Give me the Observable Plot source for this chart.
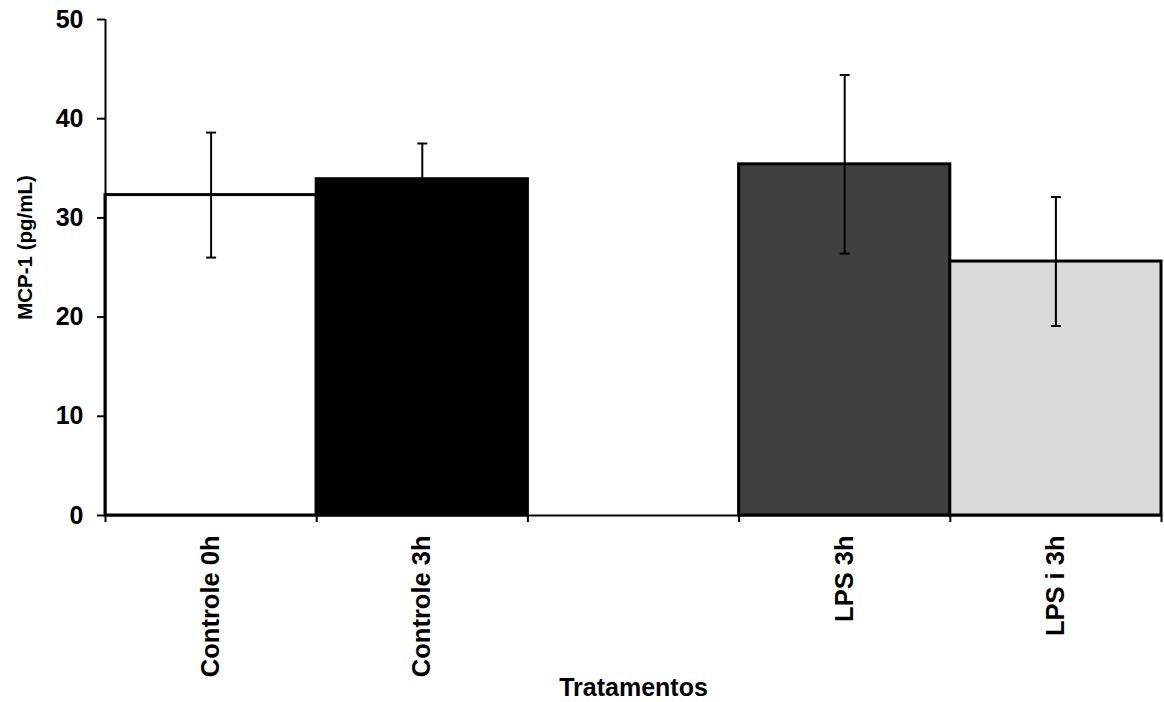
<!DOCTYPE html>
<html><head><meta charset="utf-8">
<script src="https://cdn.jsdelivr.net/npm/d3@7"></script>
<script src="https://cdn.jsdelivr.net/npm/@observablehq/plot@0.6"></script>
<style>body{margin:0;background:#fff;}</style>
</head><body><div id="chart"></div>
<script>
const categories = ["Controle 0h", "Controle 3h", "", "LPS 3h", "LPS i 3h"];
const means = [32.3, 33.9, null, 35.4, 25.6];
const errors = [6.3, 3.6, null, 9.0, 6.5];
const fills = ["#ffffff", "#000000", null, "#404040", "#d9d9d9"];
const yTicks = [0, 10, 20, 30, 40, 50];
const xTitle = "Tratamentos";
const yTitle = "MCP-1 (pg/mL)";

const data = categories
  .map((c, i) => ({category: c, index: i, mean: means[i], err: errors[i], fill: fills[i]}))
  .filter(d => d.mean != null);

const boundaries = d3.range(categories.length + 1);
const capSymbol = {draw(ctx) { ctx.moveTo(-5, 0); ctx.lineTo(5, 0); }};
const font = "'Liberation Sans', Arial, Helvetica, sans-serif";

const chart = Plot.plot({
  width: 1164,
  height: 702,
  marginLeft: 105,
  marginRight: 3,
  marginTop: 19,
  marginBottom: 187,
  style: {fontFamily: font, background: "#fff", color: "#000"},
  x: {type: "linear", domain: [0, categories.length]},
  y: {domain: [0, 50]},
  marks: [
    Plot.rectY(data, {x1: d => d.index, x2: d => d.index + 1, y: "mean", fill: d => d.fill, stroke: "#000", strokeWidth: 3}),
    Plot.ruleY([0], {stroke: "#000", strokeWidth: 2}),
    Plot.ruleX([0], {y1: 0, y2: 50, stroke: "#000", strokeWidth: 2}),
    Plot.axisY(yTicks, {tickSize: 8, tickFormat: () => "", label: null, strokeWidth: 2}),
    Plot.text(yTicks, {y: d => d, text: d => String(d), frameAnchor: "left", dx: -22, textAnchor: "end", lineAnchor: "middle", fontSize: 25, fontWeight: "bold", fill: "#000"}),
    Plot.axisX(boundaries, {tickSize: 7, tickFormat: () => "", label: null, strokeWidth: 2}),
    Plot.ruleX(data, {x: d => d.index + 0.5, y1: d => d.mean - d.err, y2: d => d.mean + d.err, stroke: "#000", strokeWidth: 2}),
    Plot.dot(data, {x: d => d.index + 0.5, y: d => d.mean + d.err, symbol: capSymbol, stroke: "#000", strokeWidth: 2, fill: "none"}),
    Plot.dot(data, {x: d => d.index + 0.5, y: d => d.mean - d.err, symbol: capSymbol, stroke: "#000", strokeWidth: 2, fill: "none"}),
    Plot.text(data, {x: d => d.index + 0.5, text: "category", frameAnchor: "bottom", dy: 20, rotate: -90, textAnchor: "end", lineAnchor: "middle", fontSize: 25.5, fontWeight: "bold", fill: "#000"}),
    Plot.text([xTitle], {text: d => d, frameAnchor: "bottom", dy: 172, textAnchor: "middle", lineAnchor: "middle", fontSize: 25, fontWeight: "bold", fill: "#000"}),
    Plot.text([yTitle], {text: d => d, frameAnchor: "left", dx: -80, dy: -20, rotate: -90, textAnchor: "middle", lineAnchor: "middle", fontSize: 20.5, fontWeight: "bold", fill: "#000"})
  ]
});
document.getElementById("chart").appendChild(chart);
</script>
</body></html>
